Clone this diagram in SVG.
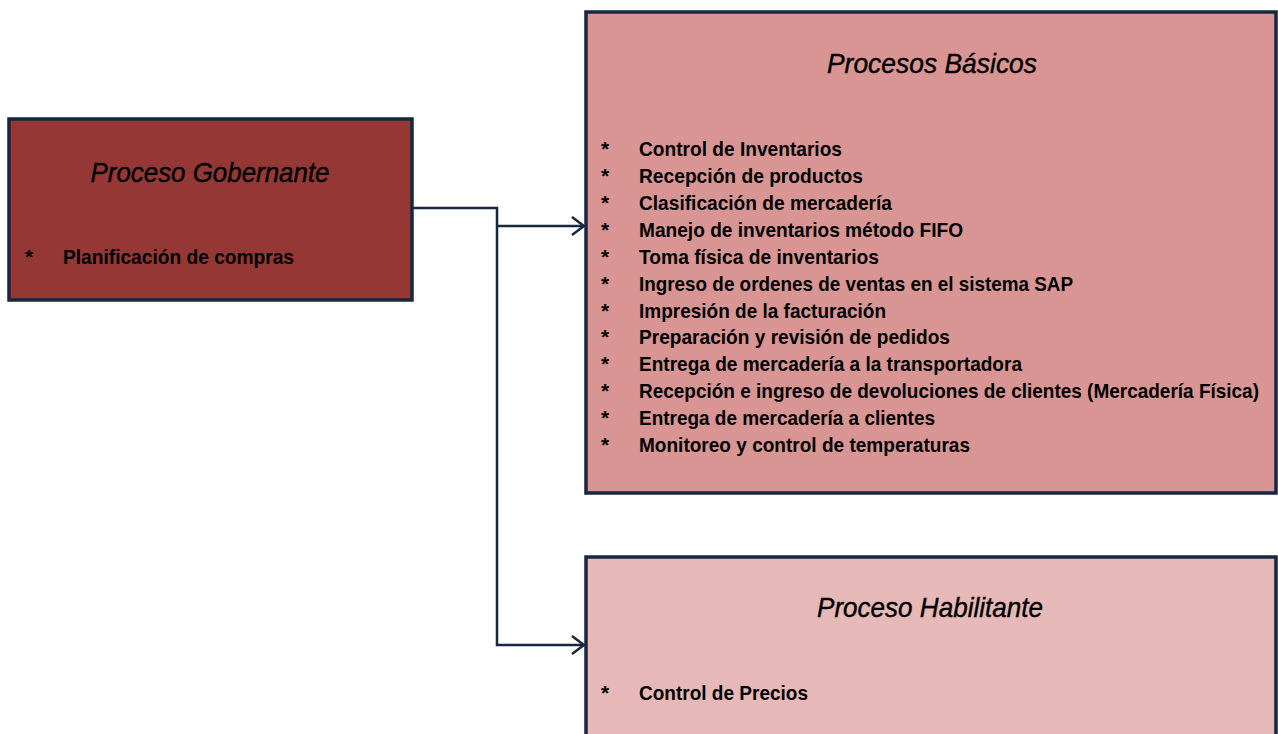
<svg xmlns="http://www.w3.org/2000/svg" width="1278" height="734" viewBox="0 0 1278 734">
<style>
.box{stroke:#17273f;stroke-width:3.5}
.title{font-family:"Liberation Sans",Arial,sans-serif;font-style:italic;font-size:28px;fill:#000;stroke:#000;stroke-width:0.4;text-anchor:middle}
.item{font-family:"Liberation Sans",Arial,sans-serif;font-weight:bold;font-size:21px;fill:#000}
.conn{fill:none;stroke:#17273f;stroke-width:2.5}
</style>
<defs>
<marker id="arr" viewBox="0 0 14 20" refX="13" refY="10" markerWidth="14" markerHeight="20" markerUnits="userSpaceOnUse" orient="auto">
<path d="M1,1 L13,10 L1,19" fill="none" stroke="#17273f" stroke-width="2.5"/>
</marker>
</defs>
<rect width="1278" height="734" fill="#fff"/>
<g id="connectors">
<polyline class="conn" points="412,208 497,208 497,645 584,645" marker-end="url(#arr)"/>
<line class="conn" x1="497" y1="226" x2="584" y2="226" marker-end="url(#arr)"/>
</g>
<g id="node-gobernante">
<rect class="box" x="9" y="119" width="403" height="181" fill="#953735"/>
<text class="title" x="210" y="182" textLength="239" lengthAdjust="spacingAndGlyphs">Proceso Gobernante</text>
<text class="item" x="25" y="264">*</text>
<text class="item" x="63" y="264" textLength="231" lengthAdjust="spacingAndGlyphs">Planificación de compras</text>
</g>
<g id="node-basicos">
<rect class="box" x="586" y="12" width="690" height="481" fill="#d99594"/>
<text class="title" x="932" y="73" textLength="210" lengthAdjust="spacingAndGlyphs">Procesos Básicos</text>
<g class="item">
<text x="601" y="156">*</text><text x="639" y="156" textLength="203" lengthAdjust="spacingAndGlyphs">Control de Inventarios</text>
<text x="601" y="183">*</text><text x="639" y="183" textLength="224" lengthAdjust="spacingAndGlyphs">Recepción de productos</text>
<text x="601" y="210">*</text><text x="639" y="210" textLength="253" lengthAdjust="spacingAndGlyphs">Clasificación de mercadería</text>
<text x="601" y="237">*</text><text x="639" y="237" textLength="324" lengthAdjust="spacingAndGlyphs">Manejo de inventarios método FIFO</text>
<text x="601" y="264">*</text><text x="639" y="264" textLength="240" lengthAdjust="spacingAndGlyphs">Toma física de inventarios</text>
<text x="601" y="291">*</text><text x="639" y="291" textLength="434" lengthAdjust="spacingAndGlyphs">Ingreso de ordenes de ventas en el sistema SAP</text>
<text x="601" y="318">*</text><text x="639" y="318" textLength="247" lengthAdjust="spacingAndGlyphs">Impresión de la facturación</text>
<text x="601" y="344">*</text><text x="639" y="344" textLength="311" lengthAdjust="spacingAndGlyphs">Preparación y revisión de pedidos</text>
<text x="601" y="371">*</text><text x="639" y="371" textLength="383" lengthAdjust="spacingAndGlyphs">Entrega de mercadería a la transportadora</text>
<text x="601" y="398">*</text><text x="639" y="398" textLength="620" lengthAdjust="spacingAndGlyphs">Recepción e ingreso de devoluciones de clientes (Mercadería Física)</text>
<text x="601" y="425">*</text><text x="639" y="425" textLength="296" lengthAdjust="spacingAndGlyphs">Entrega de mercadería a clientes</text>
<text x="601" y="452">*</text><text x="639" y="452" textLength="331" lengthAdjust="spacingAndGlyphs">Monitoreo y control de temperaturas</text>
</g>
</g>
<g id="node-habilitante">
<rect class="box" x="586" y="557" width="690" height="190" fill="#e6b8b7"/>
<text class="title" x="930" y="617" textLength="226" lengthAdjust="spacingAndGlyphs">Proceso Habilitante</text>
<text class="item" x="601" y="700">*</text>
<text class="item" x="639" y="700" textLength="169" lengthAdjust="spacingAndGlyphs">Control de Precios</text>
</g>
</svg>
